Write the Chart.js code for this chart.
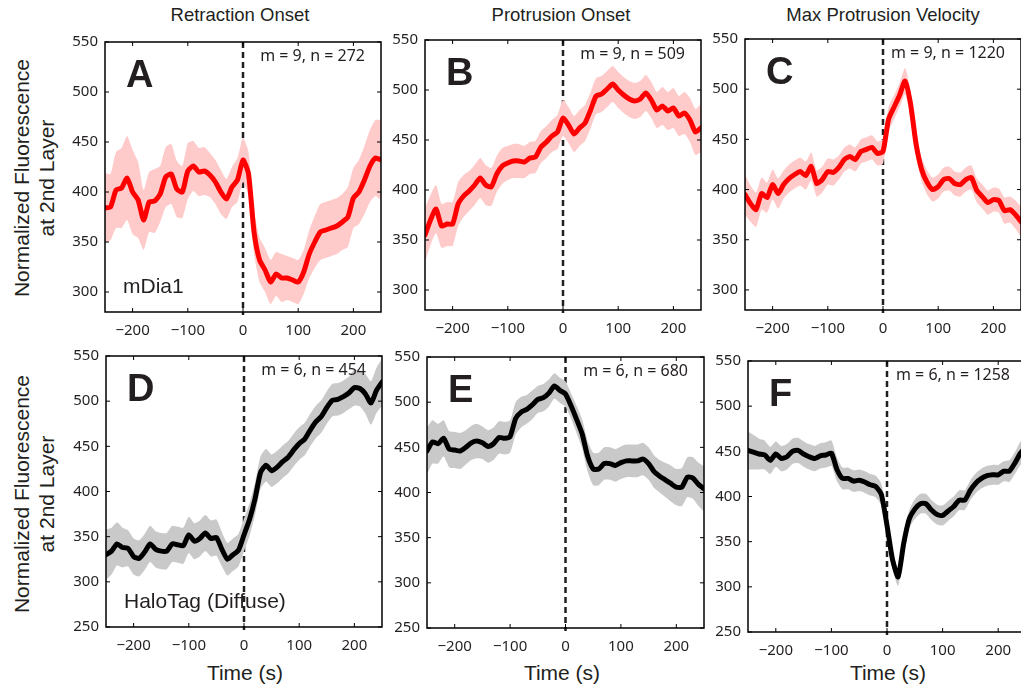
<!DOCTYPE html>
<html lang="en">
<head>
    <meta charset="UTF-8">
    <title>Normalized Fluorescence at 2nd Layer - event aligned</title>
    <style>
        body {
            margin: 0;
            width: 1021px;
            height: 687px;
            overflow: hidden;
            position: relative;
            background: #fff;
            color: #231f20;
            font-family: 'Liberation Sans', Arial, sans-serif;
        }
        .lbl {
            position: absolute;
            white-space: nowrap;
            transform: translate(-50%, -50%);
        }
        .title { font-size: 18.5px; }
        .axis { font-size: 21px; }
        .ylab { font-size: 21px; transform: translate(-50%, -50%) rotate(-90deg); }
        canvas { position: absolute; }
    </style>
    <script src="https://cdn.jsdelivr.net/npm/chart.js"></script>
</head>
<body>
    <div class="lbl title" style="left:240px; top:15px">Retraction Onset</div>
    <div class="lbl title" style="left:561px; top:15px">Protrusion Onset</div>
    <div class="lbl title" style="left:883px; top:15px">Max Protrusion Velocity</div>

    <div class="lbl ylab" style="left:22px; top:178px">Normalized Fluorescence</div>
    <div class="lbl ylab" style="left:47px; top:178px">at 2nd Layer</div>
    <div class="lbl ylab" style="left:22px; top:494px">Normalized Fluorescence</div>
    <div class="lbl ylab" style="left:47px; top:494px">at 2nd Layer</div>

    <div class="lbl axis" style="left:245px; top:673px">Time (s)</div>
    <div class="lbl axis" style="left:562px; top:673px">Time (s)</div>
    <div class="lbl axis" style="left:888px; top:673px">Time (s)</div>

    <script>
        // time (s) relative to the event
        const time = [-250, -240, -230, -220, -210, -200, -190, -180, -170, -160,
                      -150, -140, -130, -120, -110, -100, -90, -80, -70, -60,
                      -50, -40, -30, -20, -10, 0, 10, 20, 30, 40,
                      50, 60, 70, 80, 90, 100, 110, 120, 130, 140,
                      150, 160, 170, 180, 190, 200, 210, 220, 230, 240, 250];

        const xTicks = [-200, -100, 0, 100, 200];
        const yTicksTop = [300, 350, 400, 450, 500, 550];
        const yTicksBottom = [250, 300, 350, 400, 450, 500, 550];

        // mDia1 - mean and half width of the shaded band
        const meanA = [384, 385, 402, 404, 414, 400, 392, 372, 390, 391,
                       398, 415, 418, 403, 400, 421, 426, 420, 421, 417,
                       410, 400, 393, 405, 412, 432, 418, 360, 332, 322,
                       310, 318, 314, 314, 312, 310, 320, 338, 350, 360,
                       362, 364, 366, 370, 375, 394, 400, 412, 426, 434, 432];
        const bandA = [35, 33, 38, 40, 42, 42, 38, 30, 30, 32,
                       28, 30, 30, 28, 26, 28, 25, 24, 24, 22,
                       22, 22, 20, 20, 22, 22, 22, 22, 22, 22,
                       22, 22, 24, 22, 22, 22, 22, 24, 26, 28,
                       28, 28, 28, 28, 30, 30, 32, 34, 36, 38, 40];

        const meanB = [355, 370, 381, 364, 366, 366, 386, 394, 399, 405,
                       412, 405, 403, 416, 424, 427, 429, 429, 428, 432,
                       433, 443, 448, 454, 458, 472, 465, 456, 462, 467,
                       480, 494, 496, 501, 506, 500, 495, 491, 489, 491,
                       497, 490, 480, 484, 479, 482, 474, 477, 470, 458, 462];
        const bandB = [27, 25, 24, 22, 22, 22, 22, 21, 20, 20,
                       20, 20, 19, 18, 18, 17, 17, 17, 16, 16,
                       16, 16, 16, 16, 17, 18, 18, 18, 18, 18,
                       18, 18, 18, 18, 18, 18, 18, 18, 18, 18,
                       18, 18, 18, 19, 19, 20, 20, 21, 22, 23, 24];

        const meanC = [395, 386, 380, 396, 392, 405, 396, 405, 411, 415,
                       418, 414, 423, 406, 410, 418, 417, 422, 430, 433,
                       430, 438, 440, 442, 436, 438, 470, 482, 494, 508,
                       485, 445, 420, 407, 400, 403, 410, 411, 406, 405,
                       410, 412, 399, 393, 387, 390, 389, 379, 380, 375, 368];
        const bandC = [20, 18, 17, 16, 15, 15, 15, 14, 14, 14,
                       14, 14, 14, 13, 13, 13, 13, 12, 12, 12,
                       12, 12, 12, 12, 12, 12, 12, 12, 12, 13,
                       13, 12, 12, 12, 12, 12, 12, 12, 12, 12,
                       12, 12, 12, 12, 12, 12, 12, 13, 13, 14, 15];

        // HaloTag (Diffuse)
        const meanD = [330, 334, 342, 338, 337, 328, 326, 333, 342, 336,
                       334, 334, 342, 341, 340, 352, 345, 348, 354, 348,
                       349, 336, 325, 330, 335, 352, 369, 392, 421, 429,
                       423, 427, 433, 438, 446, 453, 458, 468, 477, 483,
                       493, 501, 502, 505, 509, 515, 514, 508, 498, 512, 521];
        const bandD = [28, 26, 24, 22, 20, 20, 20, 20, 20, 20,
                       20, 20, 20, 20, 20, 20, 20, 20, 20, 20,
                       20, 19, 18, 18, 18, 18, 18, 18, 18, 18,
                       18, 18, 18, 18, 18, 18, 18, 18, 18, 18,
                       18, 18, 18, 18, 18, 20, 20, 22, 24, 25, 26];

        const meanE = [446, 456, 454, 460, 448, 447, 446, 450, 455, 457,
                       455, 451, 454, 461, 460, 462, 482, 489, 492, 497,
                       503, 505, 510, 518, 513, 509, 496, 481, 465, 440,
                       426, 426, 432, 432, 430, 433, 435, 435, 435, 437,
                       432, 423, 418, 414, 410, 406, 406, 417, 416, 409, 404];
        const bandE = [26, 24, 22, 20, 20, 20, 20, 19, 19, 19,
                       18, 18, 18, 18, 18, 18, 18, 17, 16, 16,
                       15, 15, 15, 14, 14, 14, 14, 15, 16, 17,
                       18, 18, 18, 18, 18, 18, 18, 18, 18, 18,
                       18, 18, 18, 19, 20, 20, 21, 22, 23, 24, 25];

        const meanF = [451, 449, 447, 446, 440, 447, 442, 444, 450, 451,
                       447, 444, 442, 445, 446, 448, 430, 420, 420, 417,
                       418, 416, 413, 411, 402, 368, 330, 311, 348, 375,
                       386, 392, 392, 385, 380, 379, 384, 389, 396, 396,
                       407, 415, 420, 423, 424, 424, 428, 428, 437, 448, 455];
        const bandF = [21, 19, 17, 16, 15, 14, 14, 14, 14, 14,
                       14, 14, 14, 14, 14, 14, 13, 12, 12, 12,
                       12, 12, 12, 12, 12, 11, 10, 10, 10, 10,
                       11, 11, 11, 11, 11, 11, 11, 11, 11, 11,
                       11, 11, 11, 11, 11, 11, 11, 12, 12, 13, 14];

        const RED = '#ff0000', PINK = '#ffcaca';
        const BLACK = '#000000', GREY = '#c9c9c9';

        // plot box of each panel in page pixels: left, top, right, bottom
        const panels = [
            { box: [105, 38, 381, 312], mean: meanA, band: bandA, line: RED, fill: PINK, yMin: 280, yTicks: yTicksTop,
              letter: 'A', note: 'm = 9, n = 272', tag: 'mDia1' },
            { box: [425, 36, 701, 310], mean: meanB, band: bandB, line: RED, fill: PINK, yMin: 280, yTicks: yTicksTop,
              letter: 'B', note: 'm = 9, n = 509' },
            { box: [745, 35, 1021, 310], mean: meanC, band: bandC, line: RED, fill: PINK, yMin: 280, yTicks: yTicksTop,
              letter: 'C', note: 'm = 9, n = 1220' },
            { box: [106, 352, 382, 627], mean: meanD, band: bandD, line: BLACK, fill: GREY, yMin: 250, yTicks: yTicksBottom,
              letter: 'D', note: 'm = 6, n = 454', tag: 'HaloTag (Diffuse)' },
            { box: [427, 353, 704, 628], mean: meanE, band: bandE, line: BLACK, fill: GREY, yMin: 250, yTicks: yTicksBottom,
              letter: 'E', note: 'm = 6, n = 680' },
            { box: [748, 357, 1026, 632], mean: meanF, band: bandF, line: BLACK, fill: GREY, yMin: 250, yTicks: yTicksBottom,
              letter: 'F', note: 'm = 6, n = 1258' }
        ];

        const PAD_L = 50, PAD_T = 12, PAD_R = 12, PAD_B = 34;
        const INK = '#231f20';
        const tickFont = { family: "'Noto Sans', sans-serif", size: 15 };

        // dashed line at t = 0, under the data
        const zeroLine = {
            id: 'zeroLine',
            beforeDatasetsDraw(chart) {
                const { ctx, chartArea: a, scales: { x } } = chart;
                const px = x.getPixelForValue(0);
                ctx.save();
                ctx.strokeStyle = INK;
                ctx.lineWidth = 2.5;
                ctx.setLineDash([6, 4]);
                ctx.beginPath();
                ctx.moveTo(px, a.top);
                ctx.lineTo(px, a.bottom + 3);
                ctx.stroke();
                ctx.restore();
            }
        };

        // box with inward ticks, panel letter and annotations
        const panelDecor = {
            id: 'panelDecor',
            afterDraw(chart, args, opts) {
                const { ctx, chartArea: a, scales: { x, y } } = chart;
                ctx.save();
                ctx.strokeStyle = '#000';
                ctx.lineWidth = 1.5;
                ctx.strokeRect(a.left, a.top, a.right - a.left, a.bottom - a.top);
                ctx.lineWidth = 1;
                ctx.beginPath();
                x.ticks.forEach(t => {
                    const px = x.getPixelForValue(t.value);
                    ctx.moveTo(px, a.bottom); ctx.lineTo(px, a.bottom - 4);
                    ctx.moveTo(px, a.top); ctx.lineTo(px, a.top + 4);
                });
                y.ticks.forEach(t => {
                    const py = y.getPixelForValue(t.value);
                    ctx.moveTo(a.left, py); ctx.lineTo(a.left + 4, py);
                    ctx.moveTo(a.right, py); ctx.lineTo(a.right - 4, py);
                });
                ctx.stroke();

                ctx.fillStyle = INK;
                ctx.textBaseline = 'alphabetic';
                ctx.font = "bold 38px 'Liberation Sans', Arial, sans-serif";
                ctx.textAlign = 'left';
                ctx.fillText(opts.letter, a.left + 21, a.top + 45);

                ctx.font = "16px 'Noto Sans', sans-serif";
                ctx.textAlign = 'right';
                ctx.fillText(opts.note, a.right - 16, a.top + 19);

                if (opts.tag) {
                    ctx.font = "21px 'Liberation Sans', Arial, sans-serif";
                    ctx.textAlign = 'left';
                    ctx.fillText(opts.tag, a.left + 18, a.bottom - 19);
                }
                ctx.restore();
            }
        };

        panels.forEach(p => {
            const [l, t, r, b] = p.box;
            const canvas = document.createElement('canvas');
            canvas.width = (r - l) + PAD_L + PAD_R;
            canvas.height = (b - t) + PAD_T + PAD_B;
            canvas.style.left = (l - PAD_L) + 'px';
            canvas.style.top = (t - PAD_T) + 'px';
            document.body.appendChild(canvas);

            const upper = time.map((tv, i) => ({ x: tv, y: p.mean[i] + p.band[i] }));
            const lower = time.map((tv, i) => ({ x: tv, y: p.mean[i] - p.band[i] }));
            const mean = time.map((tv, i) => ({ x: tv, y: p.mean[i] }));

            new Chart(canvas, {
                type: 'line',
                data: {
                    datasets: [
                        // band edges first (drawn underneath), mean on top
                        { data: upper, order: 2, borderWidth: 0, pointRadius: 0, fill: false, tension: 0.2 },
                        { data: lower, order: 1, borderWidth: 0, pointRadius: 0, fill: '-1', backgroundColor: p.fill, tension: 0.2 },
                        { data: mean, order: 0, borderColor: p.line, borderWidth: 5, pointRadius: 0, fill: false,
                          tension: 0.2, borderJoinStyle: 'round', borderCapStyle: 'round' }
                    ]
                },
                options: {
                    responsive: false,
                    animation: false,
                    events: [],
                    layout: { padding: { top: PAD_T, right: PAD_R, left: 0, bottom: 0 } },
                    plugins: {
                        legend: { display: false },
                        tooltip: { enabled: false },
                        panelDecor: { letter: p.letter, note: p.note, tag: p.tag }
                    },
                    scales: {
                        x: {
                            type: 'linear',
                            min: -250,
                            max: 250,
                            afterBuildTicks: s => { s.ticks = xTicks.map(v => ({ value: v })); },
                            afterFit: s => { s.height = PAD_B; },
                            grid: { display: false, drawTicks: false },
                            border: { display: false },
                            ticks: {
                                padding: 10,
                                color: INK,
                                font: tickFont,
                                maxRotation: 0,
                                autoSkip: false,
                                callback: v => v < 0 ? '\u2212' + Math.abs(v) : String(v)
                            }
                        },
                        y: {
                            min: p.yMin,
                            max: 550,
                            afterBuildTicks: s => { s.ticks = p.yTicks.map(v => ({ value: v })); },
                            afterFit: s => { s.width = PAD_L; },
                            grid: { display: false, drawTicks: false },
                            border: { display: false },
                            ticks: { padding: 7, color: INK, font: tickFont, autoSkip: false }
                        }
                    }
                },
                plugins: [zeroLine, panelDecor]
            });
        });
    </script>
</body>
</html>
